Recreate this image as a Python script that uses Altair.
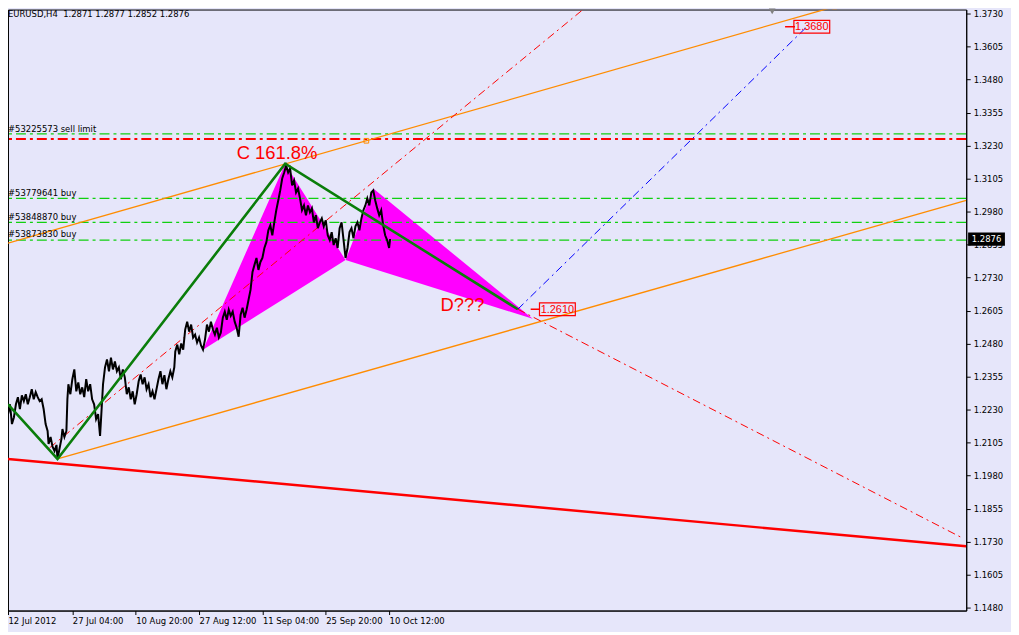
import altair as alt
import pandas as pd

# ---------------- data ----------------
# H4 bar index (0 = 12 Jul 2012) and price path of EURUSD
bar_idx = [0, 2, 4, 6, 8, 10, 12, 14, 16, 18, 20, 22, 24, 26, 28, 30, 32, 34, 36, 38,
           40, 41, 43, 45, 47, 49, 50, 52, 54, 55, 57, 59, 60, 61, 63, 65, 67, 69, 71, 73,
           75, 77, 79, 81, 83, 85, 87, 89, 91, 93, 94] + list(range(96, 169, 2)) + list(range(169, 386, 2)) + [386]
close = [1.2213, 1.2250, 1.2175, 1.2201, 1.2250, 1.2277, 1.2232, 1.2284, 1.2262, 1.2288,
         1.2250, 1.2277, 1.2307, 1.2269, 1.2296, 1.2277, 1.2262, 1.2269, 1.2232, 1.2175,
         1.2149, 1.2100, 1.2126, 1.2089, 1.2073, 1.2096, 1.2043, 1.2081, 1.2119, 1.2156,
         1.2126, 1.2149, 1.2269, 1.2326, 1.2288, 1.2345, 1.2382, 1.2299, 1.2333, 1.2288,
         1.2314, 1.2277, 1.2345, 1.2299, 1.2326, 1.2269, 1.2250, 1.2194, 1.2213, 1.2130,
         1.2194,
         # from bar 96
         1.2326, 1.2390, 1.2420, 1.2375, 1.2427, 1.2382, 1.2412, 1.2375, 1.2390, 1.2345,
         1.2382, 1.2352, 1.2288, 1.2314, 1.2269, 1.2299, 1.2250, 1.2288, 1.2337, 1.2363,
         1.2326, 1.2352, 1.2307, 1.2326, 1.2277, 1.2299, 1.2269, 1.2307, 1.2345, 1.2375,
         1.2326, 1.2360, 1.2307, 1.2345, 1.2375, 1.2352, 1.2390,
         # from bar 169
         1.2450, 1.2476, 1.2439, 1.2480, 1.2457, 1.2533, 1.2563, 1.2525, 1.2552, 1.2503,
         1.2514, 1.2484, 1.2503, 1.2473, 1.2457, 1.2495, 1.2552, 1.2525, 1.2563, 1.2533,
         1.2514, 1.2540, 1.2503, 1.2521, 1.2578, 1.2601, 1.2570, 1.2608, 1.2585, 1.2601,
         1.2563, 1.2540, 1.2506, 1.2589, 1.2616, 1.2578, 1.2608, 1.2646, 1.2683, 1.2751,
         1.2778, 1.2804, 1.2759, 1.2789, 1.2804, 1.2842, 1.2864, 1.2909, 1.2928, 1.2890,
         1.2939, 1.2985, 1.3022, 1.3060, 1.3105, 1.3128, 1.3154, 1.3128, 1.3143, 1.3079,
         1.3098, 1.3052, 1.3067, 1.3030, 1.2985, 1.3003, 1.2966, 1.3003, 1.2977, 1.2992,
         1.2939, 1.2966, 1.2917, 1.2939, 1.2954, 1.2924, 1.2947, 1.2890, 1.2872, 1.2902,
         1.2853, 1.2879, 1.2842, 1.2917, 1.2939, 1.2872, 1.2804, 1.2842, 1.2902, 1.2917,
         1.2879, 1.2924, 1.2939, 1.2909, 1.2954, 1.2985, 1.3003, 1.3030, 1.3003, 1.3052,
         1.3060, 1.3022, 1.2992, 1.2966, 1.2985, 1.2928, 1.2890, 1.2872, 1.2842,
         1.2876]

y_ticks = [1.1480, 1.1605, 1.1730, 1.1855, 1.1980, 1.2105, 1.2230, 1.2355, 1.2480, 1.2605,
           1.2730, 1.2855, 1.2980, 1.3105, 1.3230, 1.3355, 1.3480, 1.3605, 1.3730]
x_tick_bars = [0, 65, 129, 193, 257, 321, 385]
x_tick_labels = ["12 Jul 2012", "27 Jul 04:00", "10 Aug 20:00", "27 Aug 12:00",
                 "11 Sep 04:00", "25 Sep 20:00", "10 Oct 12:00"]

# pending / open orders (horizontal lines)
green_levels = [1.3274, 1.3030, 1.2939, 1.2872]
sell_limit_level = 1.3255
order_labels = ["#53225573 sell limit", "#53779641 buy", "#53848870 buy", "#53873830 buy"]
order_label_prices = [1.3282, 1.3037, 1.2947, 1.2883]

# butterfly pattern vertices X, A(C 161.8%), B, C, D
pat_bars = [197, 280, 341, 369, 530]
pat_prices = [1.2457, 1.3161, 1.2796, 1.3067, 1.2574]

# trend / channel lines (bar, price end points)
red_base_bars, red_base_prices = [0, 968], [1.2043, 1.1712]
orange_low_bars, orange_low_prices = [50, 968], [1.2043, 1.3022]
orange_up_bars, orange_up_prices = [0, 835], [1.2860, 1.3756]
orange_pts_bars, orange_pts_prices = [362, 835], [1.3248, 1.3756]
red_diag1_bars, red_diag1_prices = [42, 587], [1.2085, 1.3764]
red_diag2_bars, red_diag2_prices = [515, 965], [1.2610, 1.1742]
blue_bars, blue_prices = [515, 807], [1.2610, 1.3680]
zig_bars, zig_prices = [0, 50, 280, 515], [1.2250, 1.2043, 1.3161, 1.2610]

# price target labels
target_texts = ["1.2610", "1.3680"]
target_prices = [1.2610, 1.3680]
target_box_bars = [555, 812]
target_lead_from = [528, 785]
target_lead_to = [537, 795]

header = "EURUSD,H4\u00a0\u00a01.2871 1.2877 1.2852 1.2876"
last_price = 1.2876

# ---------------- chart ----------------
W, H = 963, 604
XD = [0, 968]
YD = [1.14687, 1.37451]
BG = "#E6E6FA"
FONT = "DejaVu Sans"

label_expr = " : ".join(f"datum.value == {b} ? '{l}'" for b, l in zip(x_tick_bars, x_tick_labels)) + " : ''"

xaxis = alt.Axis(values=x_tick_bars, labelExpr=label_expr, labelAlign="left", labelPadding=2,
                 tickSize=4, labelOverlap=False, labelBound=False, grid=False, title=None,
                 labelFlush=False)
yaxis = alt.Axis(values=y_ticks, format=".4f", orient="right", tickSize=4, labelPadding=3,
                 grid=False, title=None, labelOverlap=False, labelBound=False, labelFlush=False)


def X(field="bar"):
    return alt.X(f"{field}:Q", scale=alt.Scale(domain=XD, nice=False, zero=False), axis=xaxis)


def Y(field="price"):
    return alt.Y(f"{field}:Q", scale=alt.Scale(domain=YD, nice=False, zero=False), axis=yaxis)


def interp(b, b0, p0, b1, p1):
    return p0 + (p1 - p0) * (b - b0) / (b1 - b0)


# pink pattern polygon as area (upper edge through vertices, lower edge X-B and B-D)
low = [pat_prices[0],
       interp(pat_bars[1], pat_bars[0], pat_prices[0], pat_bars[2], pat_prices[2]),
       pat_prices[2],
       interp(pat_bars[3], pat_bars[2], pat_prices[2], pat_bars[4], pat_prices[4]),
       pat_prices[4]]
pat_df = pd.DataFrame({"bar": pat_bars, "price": pat_prices, "low": low})
pink = alt.Chart(pat_df).mark_area(color="#FF00FF", opacity=1, clip=True).encode(
    x=X(), y=Y(), y2="low:Q")

# horizontal order lines
green_h = alt.Chart(pd.DataFrame({"price": green_levels})).mark_rule(
    color="#10D010", strokeWidth=1.3, strokeDash=[10, 4, 3, 4], clip=True).encode(y=Y())
red_h = alt.Chart(pd.DataFrame({"price": [sell_limit_level]})).mark_rule(
    color="#FF0000", strokeWidth=2, strokeDash=[10, 4, 3, 4], clip=True).encode(y=Y())


def seg(bars, prices, **kw):
    return alt.Chart(pd.DataFrame({"bar": bars, "price": prices})).mark_line(clip=True, **kw).encode(
        x=X(), y=Y(), order="bar:Q")


red_base = seg(red_base_bars, red_base_prices, color="#FF0000", strokeWidth=2.5)
orange_low = seg(orange_low_bars, orange_low_prices, color="#FF8C00", strokeWidth=1.3)
orange_up = seg(orange_up_bars, orange_up_prices, color="#FF8C00", strokeWidth=1.3)
red_d1 = seg(red_diag1_bars, red_diag1_prices, color="#FF0000", strokeWidth=1, strokeDash=[8, 4, 2, 4])
red_d2 = seg(red_diag2_bars, red_diag2_prices, color="#FF0000", strokeWidth=1, strokeDash=[8, 4, 2, 4])
blue_d = seg(blue_bars, blue_prices, color="#0000FF", strokeWidth=1, strokeDash=[8, 4, 2, 4])
zig = seg(zig_bars, zig_prices, color="#0A7D0A", strokeWidth=2.6)

orange_pts = alt.Chart(pd.DataFrame({"bar": orange_pts_bars, "price": orange_pts_prices})).mark_point(
    shape="square", size=22, filled=False, color="#FF8C00", strokeWidth=1, opacity=1, clip=True).encode(
    x=X(), y=Y())

price_line = alt.Chart(pd.DataFrame({"bar": bar_idx, "price": close})).mark_line(
    color="black", strokeWidth=2.0, clip=True).encode(x=X(), y=Y(), order="bar:Q")

# texts
big_txt = alt.Chart(pd.DataFrame({"bar": [231, 437], "price": [1.3203, 1.2627],
                                  "t": ["C 161.8%", "D???"]})).mark_text(
    align="left", baseline="middle", font="Liberation Sans", fontSize=18.5, color="#FF0000").encode(
    x=X(), y=Y(), text="t:N")

ord_txt = alt.Chart(pd.DataFrame({"bar": [0] * len(order_labels), "price": order_label_prices,
                                  "t": order_labels})).mark_text(
    align="left", baseline="alphabetic", font=FONT, fontSize=8.5, color="black").encode(
    x=X(), y=Y(), text="t:N")

head_txt = alt.Chart(pd.DataFrame({"bar": [0], "price": [1.3729], "t": [header]})).mark_text(
    align="left", baseline="middle", font=FONT, fontSize=8.5, color="black").encode(
    x=X(), y=Y(), text="t:N")

# target label boxes
tdf = pd.DataFrame({"bar": target_box_bars, "price": target_prices, "t": target_texts,
                    "b0": target_lead_from, "b1": target_lead_to})
leads = alt.Chart(tdf).mark_rule(color="#FF0000", strokeWidth=1.5).encode(
    x=X("b0"), x2="b1:Q", y=Y())
boxes = alt.Chart(tdf).mark_point(shape="M-1,-0.36H1V0.36H-1Z", size=36 * 36, filled=False,
                                  color="#FF0000", strokeWidth=1.2, opacity=1).encode(x=X(), y=Y())
box_txt = alt.Chart(tdf).mark_text(font="Liberation Sans", fontSize=11, color="#FF0000",
                                   baseline="middle", align="center", dy=0.5).encode(
    x=X(), y=Y(), text="t:N")

# current price tag on the axis
cur_df = pd.DataFrame({"bar": [988.5], "price": [last_price], "t": [f"{last_price:.4f}"]})
cur_box = alt.Chart(cur_df).mark_point(shape="M-1,-0.36H1V0.36H-1Z", size=37 * 37, filled=True,
                                       color="black", opacity=1).encode(x=X(), y=Y())
cur_txt = alt.Chart(cur_df).mark_text(font=FONT, fontSize=8.5, color="white", baseline="middle",
                                      align="center").encode(x=X(), y=Y(), text="t:N")

# chart-shift marker
shift = alt.Chart(pd.DataFrame({"bar": [772], "price": [1.3738]})).mark_point(
    shape="triangle-down", size=45, filled=True, color="#808080", opacity=1).encode(x=X(), y=Y())

chart = alt.layer(
    pink, green_h, red_h, red_base, orange_low, orange_up, orange_pts, red_d1, red_d2, blue_d,
    price_line, zig, leads, boxes, box_txt, big_txt, ord_txt, head_txt, cur_box, cur_txt, shift
).properties(
    width=W, height=H, background=BG,
    padding={"left": 0, "top": 0, "right": 45, "bottom": 20},
    autosize=alt.AutoSizeParams(type="none"),
).configure_view(
    stroke="black", strokeWidth=1, fill=BG
).configure_axis(
    domainColor="black", tickColor="black", labelColor="black", labelFont=FONT,
    labelFontSize=8.5, domainWidth=1
)

chart.save("out.html", embed_options={"renderer": "svg", "actions": False})
